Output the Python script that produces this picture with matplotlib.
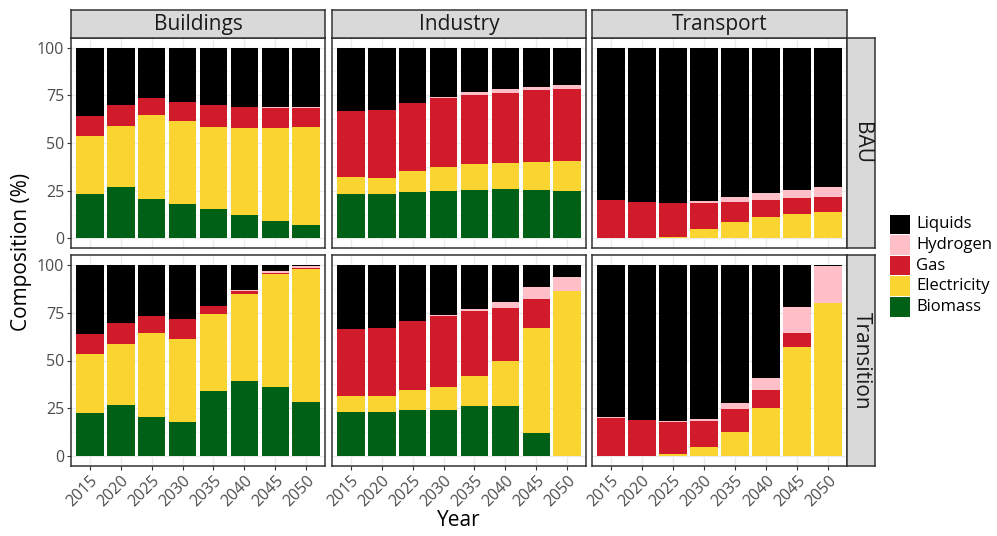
import matplotlib
matplotlib.use("Agg")
import matplotlib.pyplot as plt
from matplotlib.patches import Rectangle
import numpy as np

plt.rcParams['font.family'] = ['Open Sans', 'DejaVu Sans']

years = [2015, 2020, 2025, 2030, 2035, 2040, 2045, 2050]
sectors = ["Buildings", "Industry", "Transport"]
scenarios = ["BAU", "Transition"]
fuels = ["Biomass", "Electricity", "Gas", "Hydrogen", "Liquids"]
fuel_colors = {
    "Liquids": "#000000",
    "Hydrogen": "#FFBFC9",
    "Gas": "#D11B2A",
    "Electricity": "#FAD531",
    "Biomass": "#006015",
}

# Composition (%) by fuel, one list per sector/scenario, ordered by year
buildings_bau_biomass = [23.1, 26.7, 20.5, 17.8, 15.2, 12.1, 9.4, 6.8]
buildings_bau_electricity = [30.4, 32.0, 44.0, 43.6, 43.0, 45.6, 48.3, 51.4]
buildings_bau_gas = [10.5, 11.1, 8.9, 9.9, 11.6, 11.0, 10.7, 10.2]
buildings_bau_hydrogen = [0.0, 0.0, 0.0, 0.3, 0.0, 0.1, 0.3, 0.3]
buildings_bau_liquids = [36.0, 30.2, 26.6, 28.4, 30.2, 31.2, 31.3, 31.3]

industry_bau_biomass = [23.1, 23.1, 24.1, 24.7, 25.2, 25.7, 25.2, 24.7]
industry_bau_electricity = [8.9, 8.4, 11.0, 12.5, 13.6, 13.6, 14.7, 15.7]
industry_bau_gas = [34.6, 35.6, 35.7, 36.4, 36.2, 36.7, 37.7, 37.7]
industry_bau_hydrogen = [0.0, 0.0, 0.0, 0.5, 1.6, 2.1, 1.6, 2.1]
industry_bau_liquids = [33.4, 32.9, 29.2, 25.9, 23.4, 21.9, 20.8, 19.8]

transport_bau_biomass = [0.0, 0.0, 0.0, 0.0, 0.0, 0.0, 0.0, 0.0]
transport_bau_electricity = [0.0, 0.0, 1.0, 4.7, 8.4, 11.0, 12.6, 13.6]
transport_bau_gas = [19.9, 18.9, 17.4, 13.7, 10.5, 8.9, 8.4, 7.9]
transport_bau_hydrogen = [0.2, 0.0, 0.0, 1.0, 2.6, 3.7, 4.2, 5.2]
transport_bau_liquids = [79.9, 81.1, 81.6, 80.6, 78.5, 76.4, 74.8, 73.3]

buildings_tr_biomass = [22.8, 27.0, 20.7, 18.1, 34.3, 39.5, 36.3, 28.5]
buildings_tr_electricity = [30.8, 31.8, 43.8, 43.3, 40.1, 45.4, 59.0, 69.4]
buildings_tr_gas = [10.4, 10.9, 8.9, 10.4, 4.2, 1.2, 0.5, 0.3]
buildings_tr_hydrogen = [0.0, 0.1, 0.0, 0.0, 0.0, 0.5, 1.1, 1.3]
buildings_tr_liquids = [36.0, 30.2, 26.6, 28.2, 21.4, 13.4, 3.1, 0.5]

industry_tr_biomass = [23.3, 23.3, 24.3, 24.3, 26.4, 26.4, 12.3, 0.0]
industry_tr_electricity = [8.4, 8.4, 10.5, 12.0, 15.7, 23.5, 54.8, 86.4]
industry_tr_gas = [34.9, 35.4, 36.0, 37.1, 33.9, 27.7, 15.2, 0.0]
industry_tr_hydrogen = [0.0, 0.0, 0.0, 0.5, 1.0, 3.1, 6.2, 7.3]
industry_tr_liquids = [33.4, 32.9, 29.2, 26.1, 23.0, 19.3, 11.5, 6.3]

transport_tr_biomass = [0.0, 0.0, 0.0, 0.0, 0.0, 0.0, 0.0, 0.0]
transport_tr_electricity = [0.0, 0.0, 1.4, 5.0, 12.9, 25.4, 57.2, 79.8]
transport_tr_gas = [20.2, 19.1, 16.7, 13.6, 12.0, 9.4, 7.3, 0.0]
transport_tr_hydrogen = [0.2, 0.1, 0.5, 1.1, 3.1, 6.2, 13.6, 19.7]
transport_tr_liquids = [79.6, 80.8, 81.4, 80.3, 72.0, 59.0, 21.9, 0.5]

data = {
    ("Buildings", "BAU"): [buildings_bau_biomass, buildings_bau_electricity, buildings_bau_gas,
                           buildings_bau_hydrogen, buildings_bau_liquids],
    ("Industry", "BAU"): [industry_bau_biomass, industry_bau_electricity, industry_bau_gas,
                          industry_bau_hydrogen, industry_bau_liquids],
    ("Transport", "BAU"): [transport_bau_biomass, transport_bau_electricity, transport_bau_gas,
                           transport_bau_hydrogen, transport_bau_liquids],
    ("Buildings", "Transition"): [buildings_tr_biomass, buildings_tr_electricity, buildings_tr_gas,
                                  buildings_tr_hydrogen, buildings_tr_liquids],
    ("Industry", "Transition"): [industry_tr_biomass, industry_tr_electricity, industry_tr_gas,
                                 industry_tr_hydrogen, industry_tr_liquids],
    ("Transport", "Transition"): [transport_tr_biomass, transport_tr_electricity, transport_tr_gas,
                                  transport_tr_hydrogen, transport_tr_liquids],
}

W, H = 997, 536
fig = plt.figure(figsize=(W / 100, H / 100), dpi=100)


def px_axes(x0, y0, x1, y1, **kw):
    return fig.add_axes([x0 / W, 1 - y1 / H, (x1 - x0) / W, (y1 - y0) / H], **kw)


col_x = [(71, 325), (332, 586), (592, 847)]
row_y = [(38, 248), (255, 466)]
strip_top = (10, 38)
strip_right = (847, 875)
border = "#333333"
strip_bg = "#D9D9D9"

x = np.arange(1, len(years) + 1)

for r, scen in enumerate(scenarios):
    for c, sec in enumerate(sectors):
        x0, x1 = col_x[c]
        y0, y1 = row_y[r]
        ax = px_axes(x0, y0, x1, y1)
        ax.set_facecolor("white")
        bottom = np.zeros(len(years))
        for f, vals in zip(fuels, data[(sec, scen)]):
            v = np.asarray(vals, dtype=float)
            ax.bar(x, v, bottom=bottom, width=0.9, color=fuel_colors[f],
                   linewidth=0, zorder=2)
            bottom += v
        ax.set_xlim(0.4, len(years) + 0.6)
        ax.set_ylim(-5, 105)
        ax.set_yticks([0, 25, 50, 75, 100])
        ax.set_yticks([12.5, 37.5, 62.5, 87.5], minor=True)
        ax.set_xticks(x)
        ax.grid(True, which="major", color="#EBEBEB", linewidth=1.0, zorder=0)
        ax.grid(True, which="minor", axis="y", color="#F2F2F2", linewidth=0.6, zorder=0)
        ax.set_axisbelow(True)
        for s in ax.spines.values():
            s.set_color(border)
            s.set_linewidth(1.1)
        ax.tick_params(axis="both", which="major", color=border, length=3,
                       width=0.8, labelcolor="#4D4D4D", labelsize=11.5, pad=2)
        ax.tick_params(axis="y", which="minor", length=0)
        if c == 0:
            ax.set_yticklabels(["0", "25", "50", "75", "100"])
        else:
            ax.tick_params(axis="y", which="major", length=0, labelleft=False)
        if r == 1:
            ax.set_xticklabels([str(y) for y in years], rotation=45, ha="right",
                               va="top", rotation_mode="anchor")
        else:
            ax.tick_params(axis="x", length=0, labelbottom=False)

        # column strips
        if r == 0:
            sx = px_axes(x0, strip_top[0], x1, strip_top[1])
            sx.set_facecolor(strip_bg)
            sx.set_xticks([]); sx.set_yticks([])
            for s in sx.spines.values():
                s.set_color(border); s.set_linewidth(1.1)
            sx.text(0.5, 0.47, sec, ha="center", va="center", fontsize=15,
                    color="#1A1A1A", transform=sx.transAxes)
        # row strips
        if c == 2:
            sy = px_axes(strip_right[0], y0, strip_right[1], y1)
            sy.set_facecolor(strip_bg)
            sy.set_xticks([]); sy.set_yticks([])
            for s in sy.spines.values():
                s.set_color(border); s.set_linewidth(1.1)
            sy.text(0.5, 0.5, scen, ha="center", va="center", fontsize=15,
                    rotation=270, color="#1A1A1A", transform=sy.transAxes)

# axis titles
fig.text(22 / W, 1 - 252 / H, "Composition (%)", rotation=90, ha="center",
         va="center", fontsize=15, color="black")
fig.text(459 / W, 1 - 521 / H, "Year", ha="center", va="center",
         fontsize=15, color="black")

# legend
legend_order = ["Liquids", "Hydrogen", "Gas", "Electricity", "Biomass"]
lg = px_axes(886, 212, 997, 322)
lg.set_xlim(886, 997)
lg.set_ylim(322, 212)
lg.axis("off")
key_h = 20.6
for i, f in enumerate(legend_order):
    top = 214 + i * key_h
    lg.add_patch(Rectangle((890, top + 0.5), 20, key_h - 1, facecolor=fuel_colors[f],
                           edgecolor="none"))
    lg.text(916, top + key_h / 2, f, ha="left", va="center", fontsize=12,
            color="black")

fig.savefig("out.png", dpi=100)
